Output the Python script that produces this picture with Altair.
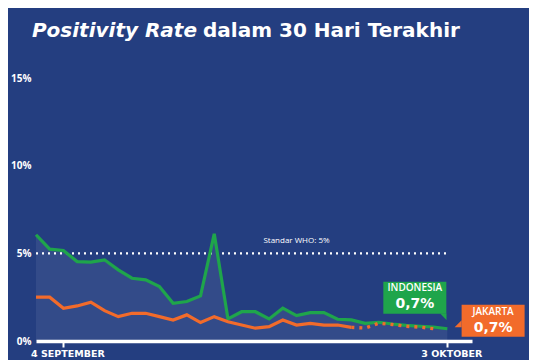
import altair as alt
import pandas as pd

# ---------------- data ----------------
hari = list(range(31))  # 31 daily points, 3 Sep .. 3 Okt
indonesia = [6.06, 5.24, 5.16, 4.53, 4.50, 4.63, 4.06, 3.58, 3.49, 3.11,
             2.15, 2.25, 2.57, 6.11, 1.26, 1.67, 1.67, 1.26, 1.87, 1.45,
             1.62, 1.62, 1.24, 1.20, 1.01, 1.07, 0.97, 0.89, 0.84, 0.80, 0.70]
jakarta = [2.50, 2.50, 1.87, 2.00, 2.21, 1.73, 1.39, 1.58, 1.58, 1.39,
           1.20, 1.49, 1.05, 1.39, 1.10, 0.91, 0.73, 0.82, 1.20, 0.91,
           1.01, 0.91, 0.91, 0.78, 0.74, 1.01, 0.94, 0.84, 0.79, 0.70]
jakarta_solid_last = 23  # index after which Jakarta is drawn dotted

tick_pos = [2, 30]
tick_labels = ["4 SEPTEMBER", "3 OKTOBER"]
y_ticks = [0, 5, 10, 15]
who_standar = 5
who_text = "Standar WHO: 5%"
title_italic = "Positivity Rate"
title_rest = "dalam 30 Hari Terakhir"

# ---------------- style ----------------
BG = "#243e80"
GREEN = "#1fa54b"
ORANGE = "#f26b2b"
FONT = "Open Sans"
WIDE = "DejaVu Sans"

W, H = 436, 263

df_ind = pd.DataFrame({"hari": hari, "rate": indonesia})
df_jkt_solid = pd.DataFrame({"hari": hari[:jakarta_solid_last + 1],
                             "rate": jakarta[:jakarta_solid_last + 1]})
df_jkt_dot = pd.DataFrame({"hari": hari[jakarta_solid_last:len(jakarta)],
                           "rate": jakarta[jakarta_solid_last:]})
df_who = pd.DataFrame({"a": [hari[0]], "b": [hari[-1]], "rate": [who_standar],
                       "mid": [19], "t": [who_text]})


def fmt(v):
    return f"{v:.1f}".replace(".", ",") + "%"


df_ind_last = pd.DataFrame({"hari": [hari[len(indonesia) - 1]], "rate": [indonesia[-1]],
                            "name": ["INDONESIA"], "val": [fmt(indonesia[-1])]})
df_jkt_last = pd.DataFrame({"hari": [hari[len(jakarta) - 1]], "rate": [jakarta[-1]],
                            "name": ["JAKARTA"], "val": [fmt(jakarta[-1])]})

label_expr = " : ".join(
    f"datum.value == {p} ? '{l}'" for p, l in zip(tick_pos[:-1], tick_labels[:-1])
) + f" : '{tick_labels[-1]}'"

x_scale = alt.Scale(domain=[0, 31.8], nice=False, zero=False)
y_scale = alt.Scale(domain=[0, 15], nice=False)

x_axis = alt.Axis(values=tick_pos, labelExpr=label_expr, title=None, grid=False,
                  domainColor="white", domainWidth=3.5, tickColor="white",
                  tickWidth=2, tickSize=6, labelColor="white", labelFont=WIDE,
                  labelFontWeight="bold", labelFontSize=9.5, labelPadding=1,
                  labelOffset=4)
y_axis = alt.Axis(values=y_ticks, labelExpr="datum.value + '%'", title=None,
                  grid=False, domain=False, ticks=False, labelColor="white",
                  labelFont=FONT, labelFontWeight="bold", labelFontSize=10,
                  labelPadding=5)

X = alt.X("hari:Q", scale=x_scale, axis=x_axis)
Y = alt.Y("rate:Q", scale=y_scale, axis=y_axis)
Xn = alt.X("hari:Q", scale=x_scale)
Yn = alt.Y("rate:Q", scale=y_scale)

area = alt.Chart(df_ind).mark_area(color="white", opacity=0.07).encode(x=X, y=Y)

who_rule = alt.Chart(df_who).mark_rule(color="white", strokeWidth=2.2,
                                       strokeDash=[2, 4]).encode(
    x=alt.X("a:Q", scale=x_scale), x2="b:Q", y=alt.Y("rate:Q", scale=y_scale))
who_label = alt.Chart(df_who).mark_text(color="white", font=FONT, fontSize=8,
                                        dy=-8, baseline="bottom").encode(
    x=alt.X("mid:Q", scale=x_scale), y=alt.Y("rate:Q", scale=y_scale), text="t:N")

line_ind = alt.Chart(df_ind).mark_line(color=GREEN, strokeWidth=3.2).encode(x=Xn, y=Yn)
line_jkt = alt.Chart(df_jkt_solid).mark_line(color=ORANGE, strokeWidth=3.2).encode(x=Xn, y=Yn)
line_jkt_dot = alt.Chart(df_jkt_dot).mark_line(color=ORANGE, strokeWidth=3.4,
                                               strokeDash=[3, 5]).encode(x=Xn, y=Yn)

# callout boxes anchored to last points
box_ind = alt.Chart(df_ind_last).mark_rect(color=GREEN, xOffset=-64, x2Offset=-1,
                                           yOffset=-47, y2Offset=-15).encode(
    x=Xn, x2="hari:Q", y=Yn, y2="rate:Q")
tail_ind = alt.Chart(df_ind_last).mark_point(shape="M-1,-1L1,-1L1,1Z", size=40,
                                             filled=True, opacity=1, color=GREEN,
                                             xOffset=-4, yOffset=-12).encode(x=Xn, y=Yn)
name_ind = alt.Chart(df_ind_last).mark_text(color="white", font=FONT, fontSize=10,
                                            fontWeight=600, dx=-32.5, dy=-41).encode(
    x=Xn, y=Yn, text="name:N")
val_ind = alt.Chart(df_ind_last).mark_text(color="white", font=WIDE, fontSize=14,
                                           fontWeight="bold", dx=-32.5, dy=-25).encode(
    x=Xn, y=Yn, text="val:N")

box_jkt = alt.Chart(df_jkt_last).mark_rect(color=ORANGE, xOffset=28, x2Offset=91,
                                           yOffset=-24, y2Offset=8).encode(
    x=Xn, x2="hari:Q", y=Yn, y2="rate:Q")
tail_jkt = alt.Chart(df_jkt_last).mark_point(shape="M1,-1L1,1L-1,1Z", size=49,
                                             filled=True, opacity=1, color=ORANGE,
                                             xOffset=24.5, yOffset=-5).encode(x=Xn, y=Yn)
name_jkt = alt.Chart(df_jkt_last).mark_text(color="white", font=FONT, fontSize=10,
                                            fontWeight=600, dx=59.5, dy=-17).encode(
    x=Xn, y=Yn, text="name:N")
val_jkt = alt.Chart(df_jkt_last).mark_text(color="white", font=WIDE, fontSize=14,
                                           fontWeight="bold", dx=59.5, dy=-1).encode(
    x=Xn, y=Yn, text="val:N")

# title (two styles)
df_t = pd.DataFrame({"a": [title_italic], "b": [title_rest]})
title_a = alt.Chart(df_t).mark_text(color="white", font=WIDE, fontSize=20,
                                    fontWeight="bold", fontStyle="italic",
                                    align="right", baseline="alphabetic").encode(
    x=alt.value(161), y=alt.value(-41), text="a:N")
title_b = alt.Chart(df_t).mark_text(color="white", font=WIDE, fontSize=20,
                                    fontWeight="bold", align="left",
                                    baseline="alphabetic").encode(
    x=alt.value(167), y=alt.value(-41), text="b:N")

chart = alt.layer(
    area, who_rule, who_label, line_ind, line_jkt, line_jkt_dot,
    box_ind, tail_ind, name_ind, val_ind,
    box_jkt, tail_jkt, name_jkt, val_jkt,
    title_a, title_b,
).properties(
    width=W, height=H,
    autosize=alt.AutoSizeParams(type="none"),
    padding={"left": 28, "top": 70, "right": 57, "bottom": 19},
    background=BG,
).configure_view(stroke=None)

chart.save("out.html", embed_options={"renderer": "svg", "actions": False})
